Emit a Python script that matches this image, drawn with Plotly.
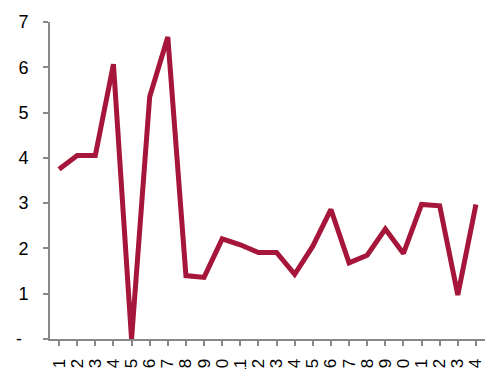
import plotly.graph_objects as go

categories = [str(i) for i in range(1, 25)]
values = [3.75, 4.05, 4.05, 6.07, 0.0, 5.35, 6.67, 1.40, 1.36, 2.21, 2.08, 1.91,
          1.91, 1.43, 2.05, 2.86, 1.68, 1.85, 2.43, 1.89, 2.97, 2.94, 0.97, 2.97]
y_ticks = [0, 1, 2, 3, 4, 5, 6, 7]
y_labels = ["-\u00a0\u200a", "1", "2", "3", "4", "5", "6", "7"]

fig = go.Figure()
fig.add_trace(go.Scatter(
    x=list(range(1, 25)), y=values, mode="lines",
    line=dict(color="#A6163A", width=5, shape="linear"),
    hoverinfo="skip", cliponaxis=True,
))

fig.update_layout(
    width=485, height=369,
    margin=dict(l=50, r=0, t=22, b=30),
    paper_bgcolor="white", plot_bgcolor="white",
    showlegend=False,
    font=dict(family="Liberation Sans, Arial, sans-serif", color="#000000"),
)
fig.update_xaxes(
    range=[0.5, 24.5],
    tickmode="array", tickvals=list(range(1, 25)), ticktext=categories,
    tickangle=-90, tickfont=dict(size=17),
    ticklabelstandoff=6, ticklabeloverflow="allow",
    showgrid=False, zeroline=False,
    showline=True, linecolor="#888888", linewidth=2,
    ticks="outside", ticklen=5, tickcolor="#888888", tickwidth=2,
    tickson="boundaries",
    automargin=False,
)
fig.update_yaxes(
    range=[0, 7],
    tickmode="array", tickvals=y_ticks, ticktext=y_labels,
    tickfont=dict(size=18),
    ticklabelstandoff=11,
    showgrid=False, zeroline=False,
    showline=True, linecolor="#888888", linewidth=2,
    ticks="outside", ticklen=5, tickcolor="#888888", tickwidth=2,
    automargin=False,
)

fig.write_html("out.html")
